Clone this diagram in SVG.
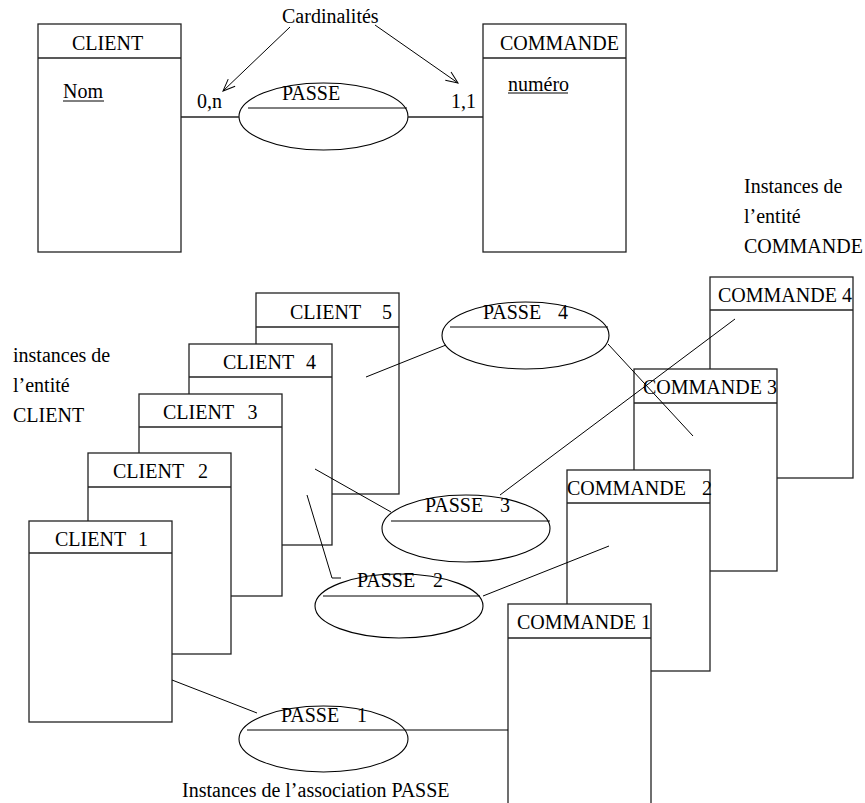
<svg xmlns="http://www.w3.org/2000/svg" width="865" height="803" viewBox="0 0 865 803">
<style>
text{font-family:"Liberation Serif","Times New Roman",serif;font-size:20px;fill:#000}
.box{fill:#fff;stroke:#222;stroke-width:1.3}
.ln{stroke:#222;stroke-width:1.3;fill:none}
.thin{stroke:#000;stroke-width:1;fill:none}
.ell{fill:none;stroke:#000;stroke-width:1.1}
</style>
<defs>
<marker id="arr" markerWidth="14" markerHeight="12" refX="13" refY="6" orient="auto" markerUnits="userSpaceOnUse">
<path d="M1,1 L13,6 L1,11" fill="none" stroke="#000" stroke-width="1"/>
</marker>
</defs>
<rect width="865" height="803" fill="#fff"/>

<!-- Top schema -->
<g id="client">
<rect class="box" x="38" y="24" width="143" height="228"/>
<line class="ln" x1="38" y1="58" x2="181" y2="58"/>
<text x="72" y="50">CLIENT</text>
<text x="63" y="98">Nom</text>
<line class="thin" x1="63" y1="101" x2="104" y2="101"/>
</g>
<g id="commande">
<rect class="box" x="483" y="24" width="143" height="228"/>
<line class="ln" x1="483" y1="58" x2="626" y2="58"/>
<text x="500" y="50">COMMANDE</text>
<text x="508" y="91">numéro</text>
<line class="thin" x1="508" y1="93" x2="568" y2="93"/>
</g>
<g id="passe">
<ellipse class="ell" cx="323.5" cy="116.5" rx="84.5" ry="33.5"/>
<line class="thin" x1="248" y1="108" x2="407" y2="108"/>
<text x="282" y="100">PASSE</text>
</g>
<g id="cardinalites">
<text x="282" y="23">Cardinalités</text>
<text x="197" y="108">0,n</text>
<text x="451" y="108">1,1</text>
</g>

<!-- Instance boxes: CLIENT -->
<g id="client5">
<rect class="box" x="256" y="293" width="143" height="201"/>
<line class="ln" x1="256" y1="327" x2="399" y2="327"/>
<text x="290" y="319">CLIENT <tspan x="382">5</tspan></text>
</g>
<g id="client4">
<rect class="box" x="189" y="344" width="143" height="201"/>
<line class="ln" x1="189" y1="377" x2="332" y2="377"/>
<text x="223" y="369">CLIENT <tspan x="306">4</tspan></text>
</g>
<g id="client3">
<rect class="box" x="139" y="394" width="143" height="202"/>
<line class="ln" x1="139" y1="427" x2="282" y2="427"/>
<text x="163" y="419">CLIENT <tspan x="247.5">3</tspan></text>
</g>
<g id="client2">
<rect class="box" x="88" y="453" width="143" height="201"/>
<line class="ln" x1="88" y1="487" x2="231" y2="487"/>
<text x="113" y="478">CLIENT <tspan x="198">2</tspan></text>
</g>
<g id="client1">
<rect class="box" x="29" y="521" width="143" height="201"/>
<line class="ln" x1="29" y1="553" x2="172" y2="553"/>
<text x="55" y="546">CLIENT <tspan x="138">1</tspan></text>
</g>

<!-- Instance boxes: COMMANDE -->
<g id="commande4">
<rect class="box" x="710" y="277" width="143" height="201"/>
<line class="ln" x1="710" y1="310" x2="853" y2="310"/>
<text x="718" y="302">COMMANDE 4</text>
</g>
<g id="commande3">
<rect class="box" x="634" y="369" width="143" height="202"/>
<line class="ln" x1="634" y1="403" x2="777" y2="403"/>
<text x="643" y="394">COMMANDE 3</text>
</g>
<g id="commande2">
<rect class="box" x="567" y="470" width="143" height="201"/>
<line class="ln" x1="567" y1="503" x2="710" y2="503"/>
<text x="567" y="495">COMMANDE <tspan x="702">2</tspan></text>
</g>
<g id="commande1">
<rect class="box" x="508" y="604" width="143" height="210"/>
<line class="ln" x1="508" y1="638" x2="651" y2="638"/>
<text x="517" y="629">COMMANDE 1</text>
</g>

<!-- Association instances -->
<g id="passe4">
<ellipse class="ell" cx="525.5" cy="335.5" rx="83.5" ry="33.5"/>
<line class="thin" x1="450" y1="327" x2="608" y2="327"/>
<text x="483" y="319">PASSE <tspan x="558">4</tspan></text>
</g>
<g id="passe3">
<ellipse class="ell" cx="466" cy="528.5" rx="84" ry="33.5"/>
<line class="thin" x1="391" y1="521" x2="550" y2="521"/>
<text x="425" y="512">PASSE <tspan x="500">3</tspan></text>
</g>
<g id="passe2">
<ellipse class="ell" cx="399" cy="606" rx="84" ry="32"/>
<line class="thin" x1="323" y1="596" x2="480" y2="596"/>
<text x="357" y="587">PASSE <tspan x="433">2</tspan></text>
</g>
<g id="passe1">
<ellipse class="ell" cx="323.5" cy="739" rx="84.5" ry="33"/>
<line class="thin" x1="247" y1="730" x2="408" y2="730"/>
<text x="281" y="722">PASSE <tspan x="357">1</tspan></text>
</g>

<!-- Labels -->
<g id="labels">
<text x="13" y="362">instances de</text>
<text x="13" y="392">l’entité</text>
<text x="13" y="422">CLIENT</text>
<text x="744" y="193">Instances de</text>
<text x="744" y="223">l’entité</text>
<text x="744" y="253">COMMANDE</text>
<text x="182" y="797">Instances de l’association PASSE</text>
</g>

<!-- Connectors -->
<g id="connectors">
<line class="ln" x1="181" y1="117" x2="239" y2="117"/>
<line class="ln" x1="408" y1="117" x2="483" y2="117"/>
<line class="thin" x1="290" y1="27" x2="223" y2="91" marker-end="url(#arr)"/>
<line class="thin" x1="375" y1="25" x2="458" y2="83" marker-end="url(#arr)"/>
<line class="thin" x1="172" y1="680" x2="257" y2="713"/>
<line class="thin" x1="408" y1="730" x2="508" y2="730"/>
<polyline class="thin" points="307,495 332,578 341,578"/>
<line class="thin" x1="483" y1="596" x2="609" y2="546"/>
<line class="thin" x1="315" y1="469" x2="391" y2="512"/>
<line class="thin" x1="500" y1="495" x2="735" y2="319"/>
<line class="thin" x1="366" y1="377" x2="446" y2="345"/>
<line class="thin" x1="608" y1="344" x2="693" y2="436"/>
</g>
</svg>
